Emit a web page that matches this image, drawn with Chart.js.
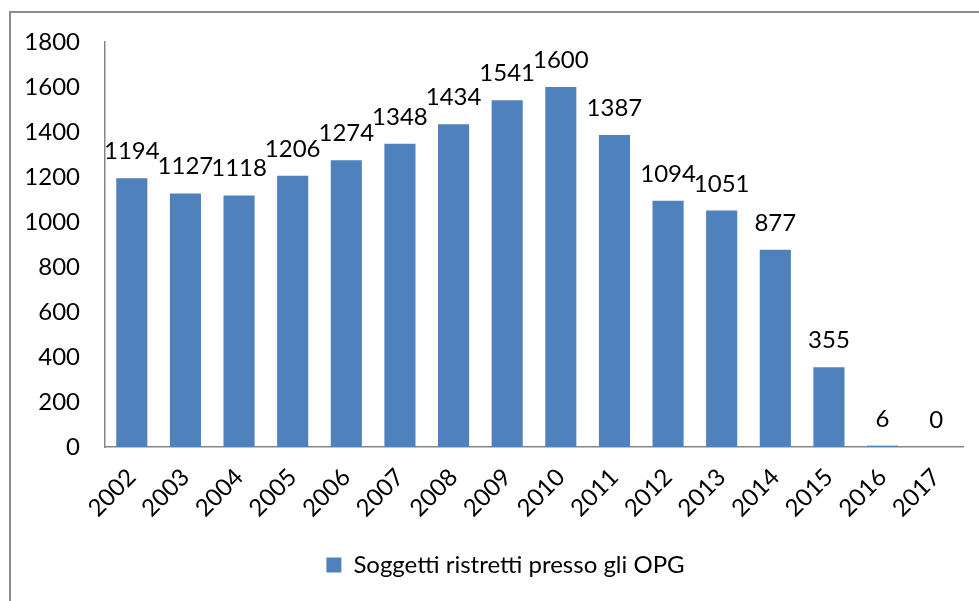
<!DOCTYPE html>
<html>
<head>
<meta charset="utf-8">
<script src="https://cdn.jsdelivr.net/npm/chart.js@4"></script>
<style>
  html, body { margin: 0; padding: 0; background: #fff; overflow: hidden; }
  #wrap { position: relative; width: 979px; height: 601px; }
  #frame {
    position: absolute; left: 9px; top: 11px; width: 1000px; height: 700px;
    border: 2px solid #8c8c8c; box-sizing: border-box;
  }
  canvas { position: absolute; left: 0; top: 0; }
</style>
</head>
<body>
<div id="wrap">
  <div id="frame"></div>
  <canvas id="chart" width="979" height="601"></canvas>
</div>
<script>
"use strict";

// ── Data ───────────────────────────────────────────
const years = ["2002", "2003", "2004", "2005", "2006", "2007", "2008", "2009",
               "2010", "2011", "2012", "2013", "2014", "2015", "2016", "2017"];
const detainees = [1194, 1127, 1118, 1206, 1274, 1348, 1434, 1541,
                   1600, 1387, 1094, 1051, 877, 355, 6, 0];
const seriesLabel = "Soggetti ristretti presso gli OPG";

const FONT = "Lato, 'Open Sans', sans-serif";
const FS = 24;
const BAR = "#4f81bd";
const AXIS = "#868686";

// Value labels above each bar (Excel style).
const valueLabels = {
  id: "valueLabels",
  afterDatasetsDraw(chart) {
    const { ctx } = chart;
    const meta = chart.getDatasetMeta(0);
    ctx.save();
    ctx.font = `${FS}px ${FONT}`;
    ctx.fillStyle = "#000";
    ctx.textAlign = "center";
    ctx.textBaseline = "alphabetic";
    meta.data.forEach((bar, i) => {
      ctx.fillText(String(detainees[i]), bar.x, bar.y - 19);
    });
    ctx.restore();
  },
};

// The original legend sits a bit right of the canvas centre; nudge it.
const legendNudge = {
  id: "legendNudge",
  afterLayout(chart) {
    if (!chart.legend) return;
    chart.legend.left += 24;
    chart.legend.right += 24;
  },
};

new Chart(document.getElementById("chart"), {
  type: "bar",
  data: {
    labels: years,
    datasets: [{
      label: seriesLabel,
      data: detainees,
      backgroundColor: BAR,
      borderWidth: 0,
      barPercentage: 0.58,
      categoryPercentage: 1,
    }],
  },
  options: {
    responsive: false,
    animation: false,
    layout: { padding: { left: 0, right: 16, top: 42, bottom: 14 } },
    scales: {
      x: {
        grid: { display: false, drawTicks: false },
        border: { display: true, color: AXIS, width: 1.5 },
        ticks: {
          color: "#000", font: { family: FONT, size: FS },
          minRotation: 45, maxRotation: 45, padding: 16,
        },
        afterFit: (s) => { s.height = 96; },
      },
      y: {
        min: 0, max: 1800,
        grid: { display: false, drawTicks: false },
        border: { display: true, color: AXIS, width: 1.5 },
        ticks: {
          stepSize: 200, color: "#000", padding: 25,
          font: { family: FONT, size: FS },
          callback: (v) => String(v),
        },
        afterFit: (s) => { s.width = 105; },
      },
    },
    plugins: {
      legend: {
        position: "bottom",
        labels: {
          color: "#000", font: { family: FONT, size: FS },
          boxWidth: 15, boxHeight: 15, padding: 10,
        },
      },
      tooltip: { enabled: false },
    },
  },
  plugins: [valueLabels, legendNudge],
});
</script>
</body>
</html>
